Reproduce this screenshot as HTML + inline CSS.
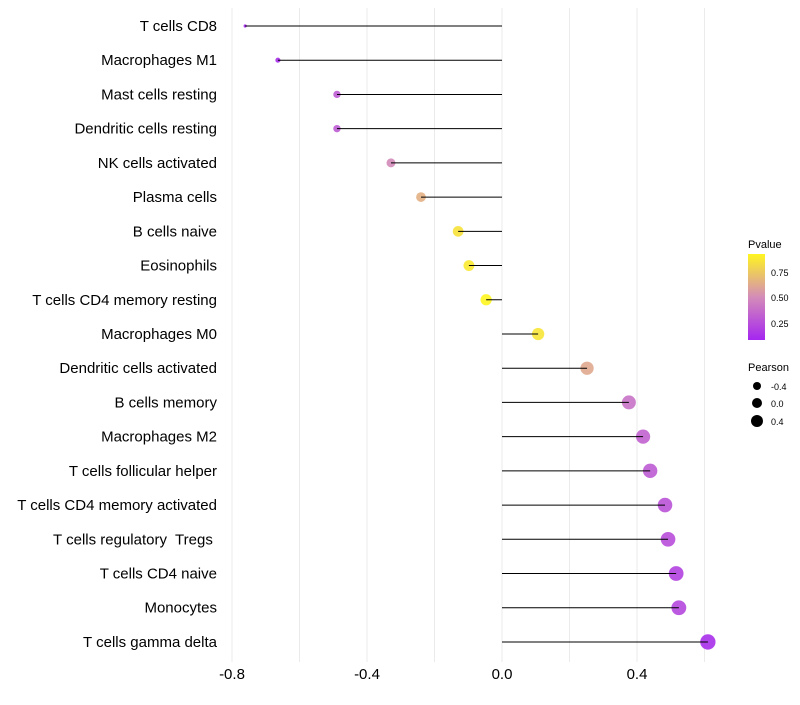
<!DOCTYPE html>
<html><head><meta charset="utf-8"><style>
body{margin:0;background:#fff}
svg{font-family:"Liberation Sans",sans-serif}
text{white-space:pre}
</style></head><body>
<svg id="chart" width="800" height="700" xmlns="http://www.w3.org/2000/svg">
<g id="grid"></g>
<g id="marks"></g>
<g id="ylab"></g>
<g id="xlab"></g>
<g id="legend">
<defs><linearGradient id="pg" x1="0" y1="1" x2="0" y2="0">
<stop offset="0" stop-color="#a526f0"/><stop offset="0.5" stop-color="#d48cb8"/><stop offset="1" stop-color="#fff520"/></linearGradient></defs>
<text x="748" y="248" font-size="11">Pvalue</text>
<rect x="748" y="254" width="17" height="86" fill="url(#pg)"/>
<text x="771" y="276" font-size="9">0.75</text>
<text x="771" y="301" font-size="9">0.50</text>
<text x="771" y="327" font-size="9">0.25</text>
<text x="748" y="371" font-size="11">Pearson</text>
<circle cx="757" cy="386" r="4"/><text x="771" y="390" font-size="9">-0.4</text>
<circle cx="757" cy="403" r="5"/><text x="771" y="407" font-size="9">0.0</text>
<circle cx="757" cy="421" r="6"/><text x="771" y="425" font-size="9">0.4</text>
</g>
</svg>
<script>
const categories=["T cells CD8","Macrophages M1","Mast cells resting","Dendritic cells resting","NK cells activated","Plasma cells","B cells naive","Eosinophils","T cells CD4 memory resting","Macrophages M0","Dendritic cells activated","B cells memory","Macrophages M2","T cells follicular helper","T cells CD4 memory activated","T cells regulatory  Tregs ","T cells CD4 naive","Monocytes","T cells gamma delta"];
const pearson=[-0.761,-0.664,-0.489,-0.489,-0.329,-0.24,-0.13,-0.098,-0.047,0.107,0.252,0.376,0.418,0.439,0.483,0.492,0.516,0.524,0.61];
const pvalue=[0.08,0.12,0.3,0.3,0.5,0.65,0.85,0.88,0.93,0.86,0.62,0.4,0.33,0.3,0.27,0.25,0.2,0.22,0.12];
const xticks=[-0.8,-0.4,0.0,0.4];
const xminor=[-0.6,-0.2,0.2,0.6];
const NS="http://www.w3.org/2000/svg";
const x=v=>502+v*337.5;
const y=i=>26+i*34.22;
function mk(t,a,p){const e=document.createElementNS(NS,t);for(const k in a)e.setAttribute(k,a[k]);p.appendChild(e);return e;}
function col(p){const s=[[165,38,240],[212,140,184],[255,245,32]];const t=Math.max(0,Math.min(1,(p-0.083)/(0.926-0.083)));const [a,b,u]=t<0.5?[s[0],s[1],t*2]:[s[1],s[2],(t-0.5)*2];return`rgb(${a.map((c,i)=>Math.round(c+(b[i]-c)*u)).join(",")})`;}
const g=document.getElementById('grid'),m=document.getElementById('marks'),yl=document.getElementById('ylab'),xl=document.getElementById('xlab');
xticks.concat(xminor).forEach(v=>{const l=mk('line',{x1:x(v),x2:x(v),y1:8,y2:662,stroke:'#ebebeb','stroke-width':1},g);

});
xticks.forEach(v=>{const t=mk('text',{x:x(v),y:679,'font-size':15,'text-anchor':'middle',fill:'#000'},xl);t.textContent=v.toFixed(1);

});
const pmin=Math.min(...pearson),pmax=Math.max(...pearson);
categories.forEach((c,i)=>{
const v=pearson[i];const r=Math.sqrt(2.5+(v-pmin)/(pmax-pmin)*56);
const pt=mk('circle',{cx:x(v),cy:y(i),r:r,fill:col(pvalue[i]),'fill-opacity':0.9},m);


const ln=mk('line',{x1:x(0),x2:x(v),y1:y(i),y2:y(i),stroke:'#000','stroke-width':1},m);


const t=mk('text',{x:217,y:y(i)+5,'font-size':15,'text-anchor':'end',fill:'#000'},yl);t.textContent=c;


});
</script>
</body></html>
